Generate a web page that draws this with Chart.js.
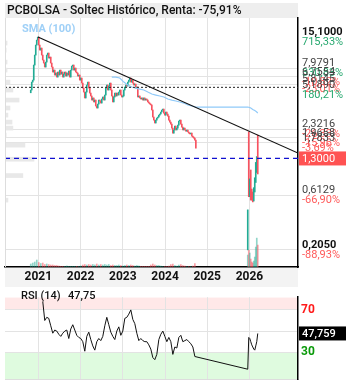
<!DOCTYPE html>
<html>
<head>
<meta charset="utf-8">
<script src="https://cdn.jsdelivr.net/npm/chart.js@4.4.1/dist/chart.umd.min.js"></script>
<style>
  html, body { margin: 0; padding: 0; background: #fff; }
  canvas { display: block; }
</style>
</head>
<body>
<canvas id="chart-price" width="353" height="287"></canvas>
<canvas id="chart-rsi" width="353" height="103"></canvas>
<script>
const titleText = 'PCBOLSA - Soltec Histórico, Renta: -75,91%';
const yearTicks = [2021, 2022, 2023, 2024, 2025, 2026];

// weekly-ish sessions 2020-11 .. 2024-09 (date = firstDate + i * barStep)
const firstDate = 2020.82;
const barStep = 0.0237;
const openFirst = 4.90;
const closes = [
  5.18, 6.08, 6.33, 8.58, 10.50, 12.85, 14.21, 15.10, 12.85, 11.61,
  12.09, 10.50, 9.49, 8.93, 8.24, 9.11, 10.50, 10.93, 9.88, 10.08,
  8.93, 8.24, 7.45, 7.75, 7.01, 7.30, 6.73, 7.45, 7.01, 7.75,
  7.15, 7.45, 6.73, 7.15, 7.45, 6.87, 7.30, 7.01, 7.60, 6.73,
  7.75, 8.40, 8.58, 7.75, 8.07, 7.45, 7.30, 6.87, 7.01, 6.33,
  6.60, 5.96, 5.39, 4.97, 4.41, 4.97, 5.73, 6.08, 5.39, 4.87,
  4.59, 4.23, 4.41, 4.07, 4.23, 3.75, 3.60, 3.90, 4.23, 4.15,
  3.98, 4.32, 4.50, 4.23, 4.68, 5.39, 5.73, 5.18, 5.61, 5.96,
  5.18, 4.59, 4.07, 4.50, 4.87, 4.59, 4.87, 4.68, 4.97, 5.18,
  4.68, 4.50, 4.59, 5.18, 5.50, 5.73, 5.61, 6.08, 6.33, 6.60,
  6.08, 6.33, 5.96, 5.73, 5.84, 5.39, 5.50, 4.50, 4.59, 4.41,
  4.32, 4.41, 4.23, 4.41, 4.23, 4.32, 4.23, 4.07, 3.98, 3.90,
  3.83, 3.46, 3.00, 2.82, 2.66, 2.82, 2.94, 3.00, 3.12, 3.19,
  3.32, 3.46, 3.53, 3.25, 3.12, 3.32, 3.19, 3.06, 2.82, 2.71,
  2.60, 2.40, 2.17, 2.31, 2.50, 2.31, 2.40, 2.55, 2.77, 2.82,
  2.60, 2.45, 2.31, 2.40, 2.31, 2.26, 2.31, 2.22, 2.17, 2.13,
  2.17, 2.04, 2.00, 1.96, 1.88, 1.60
];
// volume, one value every 2 sessions
const volumes = [
  0.6, 0.8, 1.0, 1.4, 0.9, 0.7, 0.8, 0.5, 0.6, 0.5,
  0.4, 0.4, 0.3, 0.3, 0.2, 0.1, 0.1, 0.1, 0.2, 0.1,
  0.1, 0.1, 0.1, 0.1, 0.1, 0.2, 0.4, 0.5, 0.4, 0.5,
  0.4, 0.5, 0.4, 0.6, 0.4, 0.5, 0.4, 0.5, 0.4, 0.5,
  0.3, 0.4, 0.3, 0.3, 0.4, 0.3, 0.2, 0.3, 0.4, 0.3,
  0.4, 0.3, 0.2, 0.3, 0.2, 0.1, 0.1, 0.1, 0.1, 0.1,
  0.4, 0.6, 0.4, 0.3, 0.3, 0.2, 0.1, 0.1, 0.1, 0.2,
  0.5, 0.6, 0.3, 0.2, 0.4, 0.5, 0.3, 0.2, 0.1, 0.1,
  0.1, 0.2, 0.7
];
// SMA(100), one value every 4 sessions starting at session 81
const smaStart = 81;
const sma = [6.73, 6.73, 6.60, 6.08, 5.73, 5.50, 5.39, 5.28, 5.18, 4.97, 4.78,
  4.68, 4.59, 4.50, 4.32, 4.23, 4.15, 4.07, 3.98, 3.83, 3.75, 3.67];
// RSI(14), one value every 2 sessions starting at session 12
const rsiStart = 12;
const rsi = [
  78, 60, 63, 62, 55, 48, 51, 50, 47, 45, 48, 50, 51, 43, 52, 56, 51, 46, 44, 43,
  40, 31, 45, 49, 42, 36, 32, 40, 43, 41, 45, 55, 63, 56, 49, 45, 42, 50, 54, 46,
  50, 62, 63, 66, 70, 61, 57, 48, 41, 43, 41, 40, 40, 37, 33, 25, 23, 28, 42, 47,
  50, 45, 40, 44, 40, 28, 35, 34, 44, 46, 40, 41, 42, 40, 38, 35, 26
];

// sessions after the relisting (2026)
const firstDate26 = 2025.96;
const opens26 = [0.21, 2.22, 0.62, 0.84, 0.62, 0.58, 0.56, 0.70, 0.86, 1.15, 2.00];
const highs26 = [0.46, 2.22, 0.86, 1.03, 0.70, 0.66, 0.72, 0.88, 1.20, 1.35, 2.08];
const lows26 = [0.205, 0.60, 0.60, 0.56, 0.56, 0.54, 0.55, 0.66, 0.80, 0.98, 0.95];
const closes26 = [0.45, 0.66, 0.84, 0.62, 0.58, 0.56, 0.70, 0.86, 1.15, 1.30, 1.30];
const volumes26 = [2.4, 3.4, 2.8, 1.6, 1.0, 0.8, 1.2, 2.0, 4.0, 5.8, 4.4];
const sma26 = [3.67, 3.66, 3.63, 3.60, 3.55, 3.50, 3.46, 3.42, 3.38, 3.32, 3.25];
const rsi26 = [14, 44, 43, 40, 37, 35, 33, 32, 36, 40, 47.759];

// volume profile (price level -> volume)
const profileLevels = [13.38, 11.61, 9.11, 7.75, 6.08, 5.18, 4.23, 3.60, 3.12, 2.71, 2.40, 2.08, 1.70, 1.28, 0.92, 0.56];
const profileVolumes = [0.7, 0.4, 0.7, 0.7, 1.7, 2.7, 4.8, 1.7, 1.0, 2.4, 2.7, 0.4, 6.8, 9.9, 6.1, 1.0];

// trend line and levels
const trendDates = [2020.99, 2027.15];
const trendValues = [15.1, 1.45];
const dottedLevel = 5.47;
const lastPrice = 1.30;
const lastPriceText = '1,3000';
const lastRsiText = '47,759';
const rsiTitle = 'RSI (14)';
const rsiShort = '47,75';

// right axis labels
const axisLevels = [15.1, 7.9791, 6.7554, 5.8145, 5.19, 2.3216, 1.9658, 1.7833, 0.6129, 0.205];
const axisPrices = ['15,1000', '7,9791', '6,7554', '5,8145', '5,1890', '2,3216', '1,9658', '1,7833', '0,6129', '0,2050'];
const axisPcts = ['715,33%', '330,83%', '-10,82%', '-23,01%', '180,21%', '-26,33%', '-15,96%', '-3,69%', '-66,90%', '-88,93%'];
const axisUp = [true, true, false, false, true, false, false, false, false, false];
const gridLevels = [0.205, 0.6129, 1.7833, 1.9658, 2.3216, 5.8145, 6.7554, 7.9791];
const rsiTicks = [30, 50, 70];

const xMin = 2020.21, xMax = 2027.15;
const RED = '#f7525f', GREEN = '#22ab94';

Chart.defaults.font.family = "Roboto, 'DejaVu Sans', sans-serif";

// build candles
const candles = [], candleColors = [], vol = [], volColors = [];
closes.forEach((c, i) => {
  const o = i ? closes[i - 1] : openFirst;
  candles.push({x: firstDate + i * barStep, y: [Math.min(o, c), Math.max(o, c)]});
  candleColors.push(c >= o ? GREEN : RED);
});
volumes.forEach((v, k) => {
  const i = k * 2;
  vol.push({x: firstDate + i * barStep, y: v});
  volColors.push(candleColors[i] === GREEN ? 'rgba(34,171,148,0.5)' : 'rgba(247,82,95,0.55)');
});
closes26.forEach((c, j) => {
  const d = firstDate26 + j * barStep;
  candles.push({x: d, y: [lows26[j], highs26[j]]});
  candleColors.push(c >= opens26[j] ? GREEN : RED);
  vol.push({x: d, y: volumes26[j]});
  volColors.push(c >= opens26[j] ? 'rgba(34,171,148,0.5)' : 'rgba(247,82,95,0.55)');
});
const smaPts = sma.map((v, k) => ({x: firstDate + (smaStart + k * 4) * barStep, y: v}))
  .concat(sma26.map((v, j) => ({x: firstDate26 + j * barStep, y: v})));
const rsiPts = rsi.map((v, k) => ({x: firstDate + (rsiStart + k * 2) * barStep, y: v}))
  .concat(rsi26.map((v, j) => ({x: firstDate26 + j * barStep, y: v})));
const profile = profileLevels.map((p, i) => ({x: profileVolumes[i], y: p}));

const pricePlugin = {
  id: 'priceDecor',
  beforeDraw(chart) {
    const {ctx, chartArea: a} = chart;
    ctx.save();
    ctx.fillStyle = '#eeeeee';
    ctx.fillRect(a.left, 3, a.right - a.left, a.top - 3);
    ctx.fillStyle = '#f3f3f3';
    ctx.fillRect(a.left, a.bottom, a.right - a.left, chart.height - a.bottom);
    ctx.restore();
  },
  afterDraw(chart) {
    const {ctx, chartArea: a} = chart;
    const ys = chart.scales.y;
    ctx.save();
    ctx.textBaseline = 'middle';
    ctx.fillStyle = '#111';
    ctx.font = "500 12px Roboto";
    ctx.fillText(titleText, a.left + 2, 11);
    ctx.fillStyle = '#9fd0f7';
    ctx.font = "bold 11px Roboto";
    ctx.fillText('SMA (100)', 22, 29);
    // left frame
    ctx.strokeStyle = '#dddddd';
    ctx.lineWidth = 1;
    ctx.beginPath();
    ctx.moveTo(a.left + 0.5, a.top);
    ctx.lineTo(a.left + 0.5, a.bottom);
    ctx.stroke();
    // right axis labels
    axisLevels.forEach((lv, i) => {
      const y = ys.getPixelForValue(lv);
      const bold = i === 0 || i === axisLevels.length - 1;
      ctx.font = (bold ? 'bold ' : '') + '11px Roboto';
      ctx.fillStyle = bold ? '#111' : '#444';
      ctx.fillText(axisPrices[i], a.right + 4, y - 5);
      ctx.fillStyle = axisUp[i] ? '#27a86f' : '#ff5a5a';
      ctx.font = '11px Roboto';
      ctx.fillText(axisPcts[i], a.right + 4, y + 5);
    });
    const yl = ys.getPixelForValue(lastPrice);
    ctx.fillStyle = '#ff5252';
    ctx.fillRect(a.right + 1, yl - 7, 47, 14);
    ctx.fillStyle = '#fff';
    ctx.font = '11px Roboto';
    ctx.fillText(lastPriceText, a.right + 4, yl + 0.5);
    ctx.restore();
  }
};

new Chart(document.getElementById('chart-price'), {
  type: 'line',
  data: {
    datasets: [
      {type: 'line', data: [{x: xMin, y: lastPrice}, {x: xMax, y: lastPrice}], borderColor: '#1010d0', borderWidth: 1.3, borderDash: [5, 4], pointRadius: 0, order: 1},
      {type: 'line', data: [{x: xMin, y: dottedLevel}, {x: xMax, y: dottedLevel}], borderColor: '#222', borderWidth: 1, borderDash: [2, 2], pointRadius: 0, order: 2},
      {type: 'line', data: trendDates.map((d, i) => ({x: d, y: trendValues[i]})), borderColor: '#111', borderWidth: 1.2, pointRadius: 0, order: 3},
      {type: 'line', data: smaPts, borderColor: '#90caf9', borderWidth: 1.2, pointRadius: 0, tension: 0, order: 4},
      {type: 'bar', data: candles, backgroundColor: candleColors, barThickness: 1, grouped: false, order: 5},
      {type: 'bar', data: vol, yAxisID: 'yVol', backgroundColor: volColors, barThickness: 1, grouped: false, order: 6},
      {type: 'bar', data: profile, indexAxis: 'y', xAxisID: 'xProf', yAxisID: 'y', backgroundColor: '#e8e8e8', barThickness: 4, grouped: false, order: 7}
    ]
  },
  options: {
    responsive: false,
    animation: false,
    devicePixelRatio: 1,
    layout: {padding: {left: 5, top: 18, right: 0, bottom: 0}},
    plugins: {legend: {display: false}, tooltip: {enabled: false}},
    scales: {
      x: {
        type: 'linear', min: xMin, max: xMax, offset: false,
        afterBuildTicks: s => { s.ticks = yearTicks.map(v => ({value: v})); },
        afterFit: s => { s.height = 20; },
        ticks: {callback: v => String(v), color: '#111', font: {size: 12, weight: 'bold'}, padding: 3, maxRotation: 0, autoSkip: false},
        grid: {color: '#e3e3e3', drawTicks: false, offset: false},
        border: {color: '#000', width: 1.5}
      },
      y: {
        type: 'logarithmic', position: 'right', min: 0.145, max: 22.2, offset: false,
        afterBuildTicks: s => { s.ticks = gridLevels.map(v => ({value: v})); },
        afterFit: s => { s.width = 55; },
        ticks: {display: false},
        grid: {color: '#e3e3e3', drawTicks: false, offset: false},
        border: {color: '#000', width: 1.5}
      },
      yVol: {type: 'linear', display: false, min: 0, max: 50, offset: false},
      xProf: {type: 'linear', display: false, min: 0, max: 100, offset: false}
    }
  },
  plugins: [pricePlugin]
});

const rsiPlugin = {
  id: 'rsiDecor',
  afterDraw(chart) {
    const {ctx, chartArea: a} = chart;
    const ys = chart.scales.y;
    ctx.save();
    ctx.textBaseline = 'middle';
    ctx.fillStyle = '#111';
    ctx.font = '500 11px Roboto';
    ctx.fillText(rsiTitle, 21, 9);
    ctx.fillText(rsiShort, 68, 9);
    const y = ys.getPixelForValue(rsi26[rsi26.length - 1]);
    ctx.fillStyle = '#000';
    ctx.fillRect(a.right + 1, y - 7, 47, 14);
    ctx.fillStyle = '#fff';
    ctx.fillText(lastRsiText, a.right + 4, y + 0.5);
    ctx.restore();
  }
};

new Chart(document.getElementById('chart-rsi'), {
  type: 'line',
  data: {
    datasets: [
      {data: rsiPts, borderColor: '#111', borderWidth: 1, pointRadius: 0, tension: 0, fill: false},
      {data: [{x: xMin, y: 70}, {x: xMax, y: 70}], borderWidth: 0, pointRadius: 0, fill: 'end', backgroundColor: '#ffe8e8'},
      {data: [{x: xMin, y: 30}, {x: xMax, y: 30}], borderWidth: 0, pointRadius: 0, fill: 'start', backgroundColor: '#dffbdf'}
    ]
  },
  options: {
    responsive: false,
    animation: false,
    devicePixelRatio: 1,
    layout: {padding: {left: 5, top: 0, right: 0, bottom: 0}},
    plugins: {legend: {display: false}, tooltip: {enabled: false}, filler: {drawTime: 'beforeDraw'}},
    scales: {
      x: {
        type: 'linear', min: xMin, max: xMax,
        afterBuildTicks: s => { s.ticks = yearTicks.map(v => ({value: v})); },
        afterFit: s => { s.height = 6; },
        ticks: {display: false},
        grid: {color: '#e3e3e3', drawTicks: false},
        border: {color: '#dddddd'}
      },
      y: {
        type: 'linear', position: 'right', min: 4, max: 82,
        afterBuildTicks: s => { s.ticks = rsiTicks.map(v => ({value: v})); },
        afterFit: s => { s.width = 55; },
        ticks: {callback: v => v === 50 ? '' : String(v), color: c => c.tick && c.tick.value === 70 ? '#ff1a1a' : '#0a9a0a', font: {size: 12, weight: 'bold'}, padding: 3},
        grid: {color: '#e3e3e3', drawTicks: false},
        border: {color: '#000', width: 1.5}
      }
    }
  },
  plugins: [rsiPlugin]
});
</script>
</body>
</html>
